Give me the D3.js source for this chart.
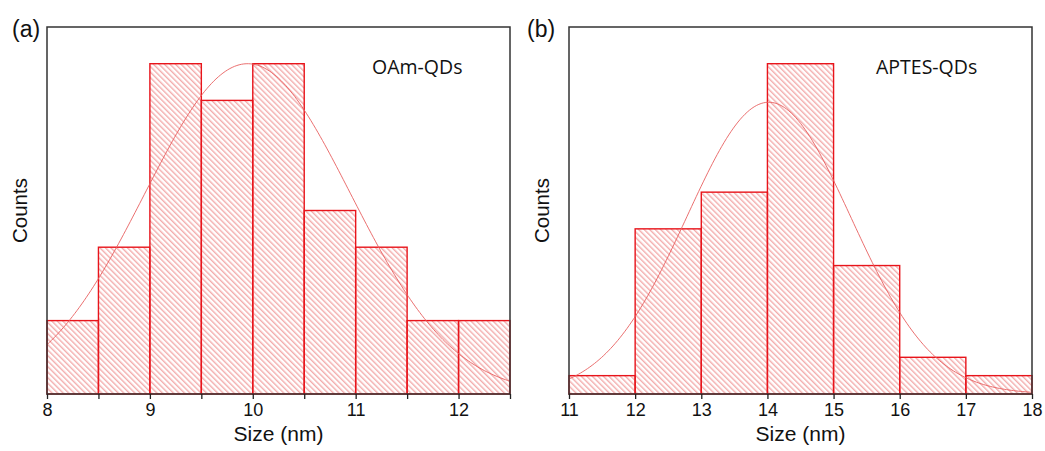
<!DOCTYPE html>
<html><head><meta charset="utf-8">
<script src="https://cdn.jsdelivr.net/npm/d3@7"></script>
<style>body{margin:0;background:#fff}svg{display:block}</style>
</head><body>
<svg id="c" width="1045" height="451"></svg>
<script>
// Panel (a): OAm-QDs
const binsA = [8, 8.5, 9, 9.5, 10, 10.5, 11, 11.5, 12, 12.5];
const countsA = [2, 4, 9, 8, 9, 5, 4, 2, 2];
const ticksA = [8, 9, 10, 11, 12];
const fitA = {center: 9.95, sigma: 1.0, amp: 9.0};
// Panel (b): APTES-QDs
const binsB = [11, 12, 13, 14, 15, 16, 17, 18];
const countsB = [1, 9, 11, 18, 7, 2, 1];
const ticksB = [11, 12, 13, 14, 15, 16, 17, 18];
const fitB = {center: 14.02, sigma: 1.24, amp: 15.9};

const svg = d3.select("#c");
const defs = svg.append("defs");
const pat = defs.append("pattern").attr("id","hatch").attr("patternUnits","userSpaceOnUse")
  .attr("width",3.9).attr("height",3.9).attr("patternTransform","rotate(-45)");
pat.append("line").attr("x1",0.8).attr("y1",0).attr("x2",0.8).attr("y2",3.9)
  .attr("stroke","#ec8282").attr("stroke-width",0.95);

const FONT = "Liberation Sans, Arial, sans-serif";
function panel(o){
  const g = svg.append("g");
  const x = d3.scaleLinear().domain(o.xdom).range([o.x0,o.x1]);
  const y = d3.scaleLinear().domain([0,o.ymax]).range([o.y1,o.y0]);
  const bars = o.counts.map((c,i)=>({a:o.bins[i],b:o.bins[i+1],c}));
  g.selectAll("rect.bar").data(bars).enter().append("rect")
    .attr("x",d=>x(d.a)).attr("width",d=>x(d.b)-x(d.a))
    .attr("y",d=>y(d.c)).attr("height",d=>y(0)-y(d.c))
    .attr("fill","url(#hatch)").attr("stroke","#e8141b").attr("stroke-width",1.4);
  const xs = d3.range(0,201).map(i=>o.xdom[0]+(o.xdom[1]-o.xdom[0])*i/200);
  const f = o.fit;
  g.append("path").datum(xs)
    .attr("d",d3.line().x(d=>x(d)).y(d=>y(f.amp*Math.exp(-((d-f.center)**2)/(2*f.sigma*f.sigma)))))
    .attr("fill","none").attr("stroke","#e86060").attr("stroke-width",0.9);
  g.append("rect").attr("x",o.x0).attr("y",o.y0).attr("width",o.x1-o.x0).attr("height",o.y1-o.y0)
    .attr("fill","none").attr("stroke","#333").attr("stroke-width",1.5);
  const ax = g.append("g").attr("transform",`translate(0,${o.y1})`)
    .call(d3.axisBottom(x).tickValues(o.bins).tickSize(5).tickFormat(d=>o.ticks.includes(d)?d3.format("d")(d):""));
  ax.select(".domain").remove();
  ax.selectAll(".tick line").attr("stroke","#222").attr("stroke-width",1.3);
  ax.selectAll(".tick text").attr("font-family",FONT)
    .attr("font-size",18).attr("fill","#111").attr("dy","0.9em").attr("y",6);
  g.append("text").attr("x",(o.x0+o.x1)/2).attr("y",441).attr("text-anchor","middle")
    .attr("font-family",FONT).attr("font-size",21).attr("fill","#111").text("Size (nm)");
  g.append("text").attr("transform",`translate(${o.x0-20},${(o.y0+o.y1)/2}) rotate(-90)`)
    .attr("text-anchor","middle").attr("font-family",FONT)
    .attr("font-size",20.5).attr("fill","#111").text("Counts");
  g.append("text").attr("x",o.tx).attr("y",37).attr("font-family",FONT)
    .attr("font-size",23).attr("fill","#111").text(o.tag);
  g.append("text").attr("x",o.lx).attr("y",74).attr("font-family","Open Sans, sans-serif")
    .attr("font-size",19.5).attr("fill","#111").text(o.label);
}
panel({xdom:[8,12.5],bins:binsA,counts:countsA,ticks:ticksA,fit:fitA,ymax:10,
  x0:47,x1:510,y0:27,y1:394,tag:"(a)",tx:12,label:"OAm-QDs",lx:372});
panel({xdom:[11,18],bins:binsB,counts:countsB,ticks:ticksB,fit:fitB,ymax:20,
  x0:569,x1:1032,y0:27,y1:394,tag:"(b)",tx:527,label:"APTES-QDs",lx:876});
</script>
</body></html>
